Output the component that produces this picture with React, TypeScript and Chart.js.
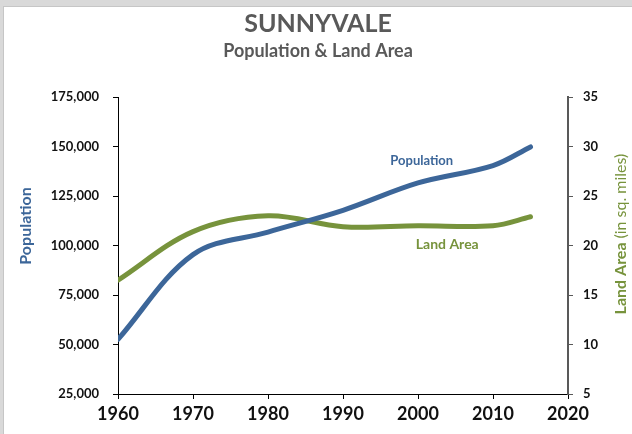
import React, { useEffect, useRef } from "react";
import { Chart, registerables } from "chart.js";

Chart.register(...registerables);

const years = [1960, 1970, 1980, 1990, 2000, 2010, 2015];
const population = [52600, 95400, 106800, 117800, 131600, 140400, 149800];
const landArea = [16.5, 21.4, 23.0, 21.9, 22.0, 22.0, 22.9];

const xTicks = { min: 1960, max: 2020, step: 10 };
const popTicks = { min: 25000, max: 175000, step: 25000 };
const areaTicks = { min: 5, max: 35, step: 5 };

const BLUE = "#3C6699";
const GREEN = "#77933C";
const FONT = "Lato, 'Open Sans', sans-serif";

const framePlugin = {
  id: "frame",
  beforeDraw(chart: any) {
    const { ctx, width, height } = chart;
    ctx.save();
    ctx.fillStyle = "#d9d9d9";
    ctx.fillRect(0, 0, width, height);
    ctx.fillStyle = "#ffffff";
    ctx.fillRect(4, 7, width - 4, height - 7);
    ctx.fillStyle = "#c6c6c6";
    ctx.fillRect(3, 7, 1, height - 7);
    ctx.fillRect(3, 6, width - 3, 1);
    ctx.restore();
  },
  afterDraw(chart: any) {
    const { ctx } = chart;
    const xs = chart.scales.x;
    const ys = chart.scales.y;
    const y1 = chart.scales.y1;
    ctx.save();
    ctx.textAlign = "center";
    ctx.textBaseline = "middle";
    ctx.fillStyle = "#595959";
    ctx.font = `bold 25px ${FONT}`;
    ctx.fillText("SUNNYVALE", 318, 24);
    ctx.font = `bold 18px ${FONT}`;
    ctx.fillText("Population & Land Area", 318, 51);

    // series labels
    ctx.font = `bold 13px ${FONT}`;
    ctx.fillStyle = BLUE;
    ctx.fillText("Population", xs.getPixelForValue(2000.5), ys.getPixelForValue(142700));
    ctx.font = `bold 14px ${FONT}`;
    ctx.fillStyle = GREEN;
    ctx.fillText("Land Area", xs.getPixelForValue(2003.9), y1.getPixelForValue(20.15));

    // left axis title
    ctx.save();
    ctx.translate(26, 226);
    ctx.rotate(-Math.PI / 2);
    ctx.font = `bold 16px ${FONT}`;
    ctx.fillStyle = BLUE;
    ctx.fillText("Population", 0, 0);
    ctx.restore();

    // right axis title (mixed weight)
    ctx.save();
    ctx.translate(621, 234);
    ctx.rotate(-Math.PI / 2);
    ctx.fillStyle = GREEN;
    ctx.textAlign = "left";
    const boldPart = "Land Area ";
    const regPart = "(in sq. miles)";
    ctx.font = `bold 16px ${FONT}`;
    const wb = ctx.measureText(boldPart).width;
    ctx.font = `16px ${FONT}`;
    const wr = ctx.measureText(regPart).width;
    const start = -(wb + wr) / 2;
    ctx.font = `bold 16px ${FONT}`;
    ctx.fillText(boldPart, start, 0);
    ctx.font = `16px ${FONT}`;
    ctx.fillText(regPart, start + wb, 0);
    ctx.restore();

    ctx.restore();
  },
};

export default function App() {
  const ref = useRef<HTMLCanvasElement | null>(null);
  useEffect(() => {
    document.body.style.margin = "0";
    if (!ref.current) return;
    const chart = new Chart(ref.current, {
      type: "line",
      data: {
        datasets: [
          {
            label: "Population",
            data: years.map((x, i) => ({ x, y: population[i] })),
            borderColor: BLUE,
            borderWidth: 5,
            pointRadius: 0,
            tension: 0.35,
            borderCapStyle: "round",
            yAxisID: "y",
          },
          {
            label: "Land Area",
            data: years.map((x, i) => ({ x, y: landArea[i] })),
            borderColor: GREEN,
            borderWidth: 5,
            pointRadius: 0,
            tension: 0.35,
            borderCapStyle: "round",
            yAxisID: "y1",
          },
        ],
      },
      options: {
        responsive: false,
        animation: false,
        layout: { padding: { top: 97, left: 0, right: 0, bottom: 0 } },
        plugins: { legend: { display: false }, tooltip: { enabled: false }, title: { display: false } },
        scales: {
          x: {
            type: "linear",
            min: xTicks.min,
            max: xTicks.max,
            ticks: {
              stepSize: xTicks.step,
              color: "#111",
              font: { family: FONT, size: 18, weight: "bold" },
              padding: 4,
              maxRotation: 0,
              callback: (v: any) => String(v),
            },
            grid: { drawOnChartArea: false, drawTicks: true, tickLength: 5, color: "#000" },
            border: { display: true, color: "#000", width: 1 },
            afterFit: (s: any) => {
              s.height = 40;
            },
          },
          y: {
            position: "left",
            min: popTicks.min,
            max: popTicks.max,
            ticks: {
              stepSize: popTicks.step,
              color: "#111",
              font: { family: FONT, size: 13, weight: "bold" },
              padding: 14,
              callback: (v: any) => Number(v).toLocaleString("en-US"),
            },
            grid: { drawOnChartArea: false, drawTicks: true, tickLength: 5, color: "#000" },
            border: { display: true, color: "#000", width: 1 },
            afterFit: (s: any) => {
              s.width = 118;
            },
          },
          y1: {
            position: "right",
            min: areaTicks.min,
            max: areaTicks.max,
            ticks: {
              stepSize: areaTicks.step,
              color: "#111",
              font: { family: FONT, size: 13, weight: "bold" },
              padding: 10,
            },
            grid: { drawOnChartArea: false, drawTicks: true, tickLength: 5, color: "#595959" },
            border: { display: true, color: "#595959", width: 2 },
            afterFit: (s: any) => {
              s.width = 64;
            },
          },
        },
      },
      plugins: [framePlugin],
    } as any);
    return () => chart.destroy();
  }, []);
  return (
    <div style={{ width: 632, height: 434 }}>
      <canvas ref={ref} width={632} height={434} style={{ display: "block" }} />
    </div>
  );
}
